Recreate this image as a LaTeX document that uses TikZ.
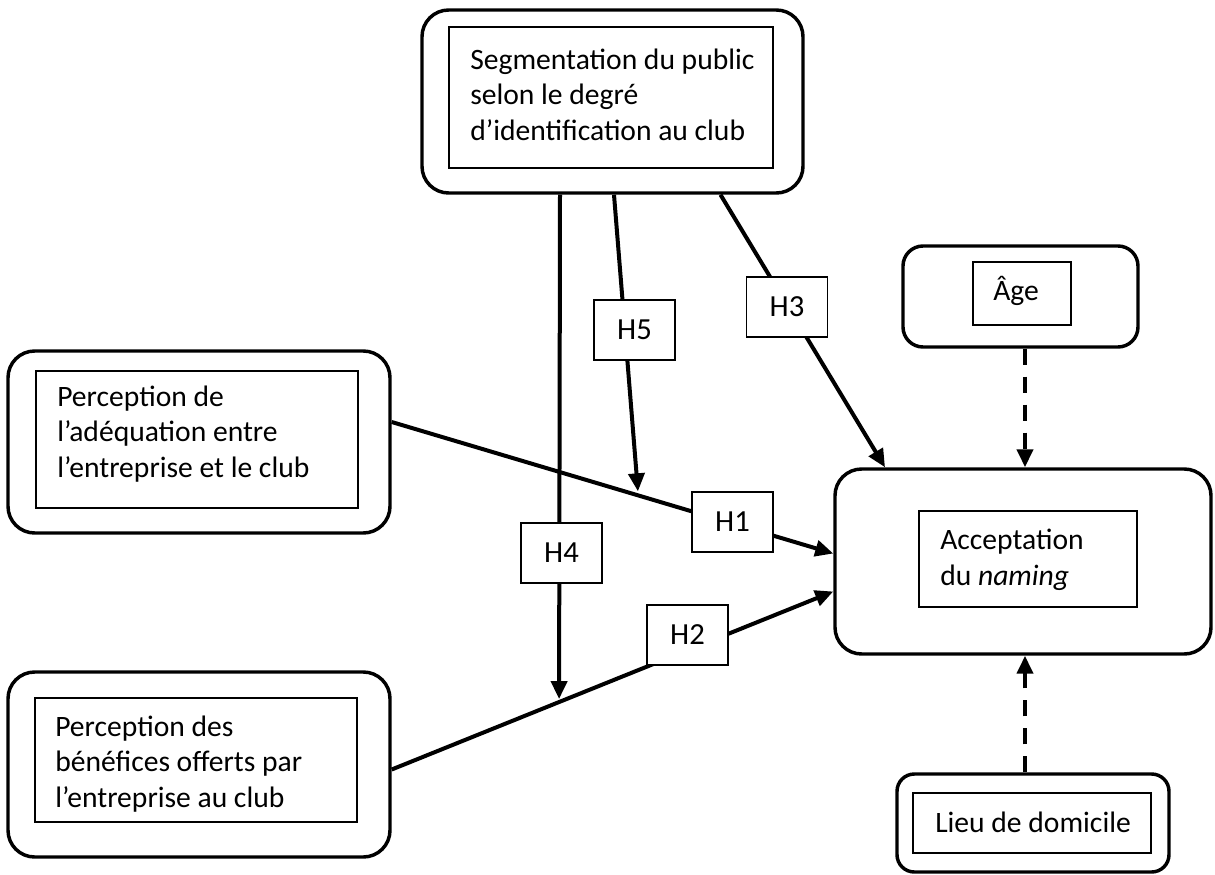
\documentclass[tikz,border=0pt]{standalone}
\usepackage{fontspec}
\setmainfont{Carlito}
\usetikzlibrary{fit,calc,arrows.meta}
\tikzset{
  outerbox/.style={draw, line width=2.6pt, rounded corners=20pt, inner sep=0pt},
  innerbox/.style={draw, line width=1.2pt, inner sep=0pt},
  txt/.style={font=\fontsize{22.2}{26.5}\selectfont, align=left, inner sep=0pt},
  hbox/.style={draw, fill=white, line width=1.4pt, minimum width=60.75pt, minimum height=45pt, inner sep=0pt, font=\fontsize{23}{27}\selectfont},
  arr/.style={line width=3pt, -{Triangle[length=13.5pt,width=12pt]}},
  dasharr/.style={line width=3pt, dash pattern=on 12.5pt off 8.5pt, -{Triangle[length=13.5pt,width=12pt]}}
}
\begin{document}
\begin{tikzpicture}[x=0.75pt,y=-0.75pt]
\useasboundingbox (0,0) rectangle (1215,875);
% outer boxes
\node[outerbox, fit={(422,10)(803,193)}] (seg) {};
\node[outerbox, fit={(8,351)(390,533)}] (adeq) {};
\node[outerbox, fit={(8,672)(390,857)}] (bene) {};
\node[outerbox, rounded corners=15pt, fit={(903,246)(1138,347)}] (age) {};
\node[outerbox, fit={(835,469)(1211,654)}] (acc) {};
\node[outerbox, rounded corners=13pt, fit={(897,774)(1169,872)}] (lieu) {};
% inner boxes
\node[innerbox, fit={(449,27)(773,168)}] (segin) {};
\node[innerbox, fit={(36,371)(358,508)}] (adeqin) {};
\node[innerbox, fit={(35,698)(357,822)}] (benein) {};
\node[innerbox, fit={(973,262)(1071,325)}] (agein) {};
\node[innerbox, fit={(919,511)(1137,607)}] (accin) {};
\node[innerbox, fit={(913,793)(1151,853)}] (lieuin) {};
% texts (anchored at the baseline of the last line)
\node[txt, anchor=base west] (segt) at (470,140) {Segmentation du public\\selon le degré\\d’identification au club};
\node[txt, anchor=base west] (adeqt) at (57,477) {Perception de\\l’adéquation entre\\l’entreprise et le club};
\node[txt, anchor=base west] (benet) at (55,807) {Perception des\\bénéfices offerts par\\l’entreprise au club};
\node[txt, anchor=base west] (aget) at (993,300) {Âge};
\node[txt, anchor=base west] (acct) at (940,585) {Acceptation\\du \textit{naming}};
\node[txt, anchor=base west] (lieut) at (935,832) {Lieu de domicile};
% main connectors
\coordinate (h1s) at ($(adeq.east)+(0,-20)$);
\coordinate (h1e) at ($(acc.west)+(0,-8)$);
\coordinate (h2s) at ($(bene.east)+(0,5)$);
\coordinate (h2e) at ($(acc.west)+(0,30)$);
\draw[arr] (h1s) -- (h1e) coordinate[pos=0.5576] (m1);
\draw[arr] (h2s) -- (h2e);
\coordinate (m2) at ($(h2s)!0.379!(h2e)$);
\draw[arr] ($(seg.south)+(108,0)$) -- ($(acc.north)+(-138,0)$);
\draw[arr] ($(seg.south)+(1.5,0)$) -- ($(m1)+(0,-4)$);
\draw[arr] ($(seg.south)+(-52.5,0)$) -- ($(m2)+(0,-3)$);
% dashed
\draw[dasharr] ($(age.south)+(4.5,0)$) coordinate (a1) -- (a1 |- acc.north);
\draw[dasharr] ($(lieu.north)+(-8,0)$) coordinate (l1) -- (l1 |- acc.south);
% labels
\node[hbox] (H5) at (634.5,330) {H5};
\node[hbox] (H3) at (787,307) {H3};
\node[hbox] (H4) at (561.5,553) {H4};
\node[hbox] (H1) at (732.5,522) {H1};
\node[hbox] (H2) at (687.5,635) {H2};
\end{tikzpicture}
\end{document}
